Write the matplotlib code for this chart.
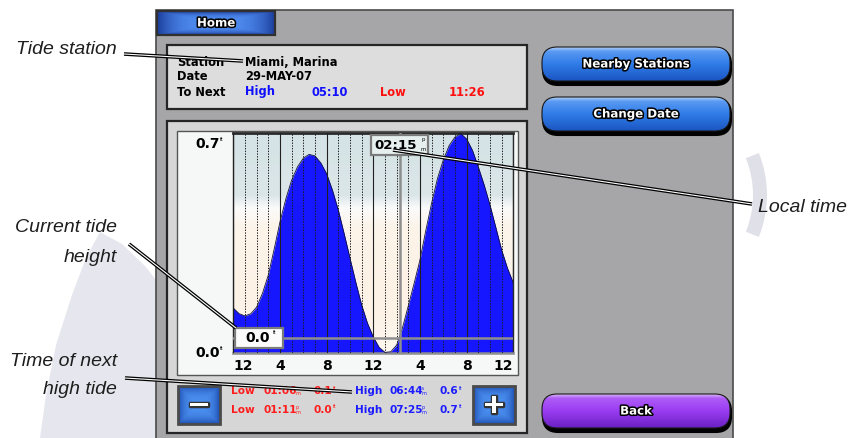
import matplotlib
matplotlib.use("Agg")
import matplotlib.pyplot as plt
import numpy as np
from matplotlib.patches import Rectangle, FancyBboxPatch, Polygon, Wedge
import matplotlib.patheffects as pe
from matplotlib.colors import to_rgb

# ---------------- data ----------------
hours = [0, 0.5, 1, 1.5, 2, 2.5, 3, 3.5, 4, 4.5, 5, 5.5, 6, 6.5, 7, 7.5, 8, 8.5,
         9, 9.5, 10, 10.5, 11, 11.5, 12, 12.5, 13, 13.5, 14, 14.5, 15, 15.5, 16,
         16.5, 17, 17.5, 18, 18.5, 19, 19.5, 20, 20.5, 21, 21.5, 22, 22.5, 23,
         23.5, 24]
heights_ft = [0.143, 0.125, 0.118, 0.125, 0.146, 0.190, 0.248, 0.330, 0.417,
              0.490, 0.550, 0.592, 0.620, 0.632, 0.627, 0.605, 0.570, 0.518,
              0.455, 0.380, 0.302, 0.225, 0.153, 0.095, 0.051, 0.018, 0.002,
              0.004, 0.025, 0.080, 0.150, 0.222, 0.296, 0.390, 0.477, 0.555,
              0.614, 0.660, 0.687, 0.698, 0.681, 0.645, 0.592, 0.535, 0.471,
              0.400, 0.328, 0.270, 0.223]
xtick_hours = [0, 4, 8, 12, 16, 20, 24]
xtick_labels = ["12", "4", "8", "12", "4", "8", "12"]
ytick_values = [0.0, 0.7]
ytick_labels = ["0.0", "0.7"]
current_time_h = 14.25
current_time_label = "02:15"
current_height_ft = 0.048
current_height_label = "0.0"

station = "Miami, Marina"
date_str = "29-MAY-07"
next_high = "05:10"
next_low = "11:26"
table_types = [["Low", "High"], ["Low", "High"]]
table_times = [["01:06", "06:44"], ["01:11", "07:25"]]
table_ampm = [["am", "am"], ["pm", "pm"]]
table_heights = [["0.1", "0.6"], ["0.0", "0.7"]]

# ---------------- figure ----------------
W, H = 852, 438
fig = plt.figure(figsize=(W / 100, H / 100), dpi=100)
bg = fig.add_axes([0, 0, 1, 1], zorder=0)
bg.set_xlim(0, W); bg.set_ylim(H, 0); bg.axis("off")
ov = fig.add_axes([0, 0, 1, 1], zorder=10)
ov.set_xlim(0, W); ov.set_ylim(H, 0); ov.axis("off"); ov.patch.set_alpha(0)

BOLD = dict(family="DejaVu Sans", weight="bold")
outline = [pe.withStroke(linewidth=2.2, foreground="black")]


def grad_array(stops, n=80):
    t = np.linspace(0, 1, n)
    pos = [p for p, _ in stops]
    cols = np.array([to_rgb(c) for _, c in stops])
    col = np.stack([np.interp(t, pos, cols[:, k]) for k in range(3)], axis=-1)
    return np.repeat(col[:, None, :], 4, axis=1)


def grad_image(ax, x0, y0, x1, y1, stops, clip, z):
    im = ax.imshow(grad_array(stops), extent=(x0, x1, y1, y0), origin="upper",
                   aspect="auto", zorder=z, interpolation="bilinear")
    im.set_clip_path(clip)
    return im


def box_image(ax, x0, y0, x1, y1, c_center, c_edge, clip, z):
    n = 60
    u = np.linspace(-1, 1, n)
    U, V = np.meshgrid(u, u)
    d = np.clip(np.maximum(np.abs(U), np.abs(V)) ** 3, 0, 1)
    cc, ce = np.array(to_rgb(c_center)), np.array(to_rgb(c_edge))
    arr = cc[None, None, :] * (1 - d[..., None]) + ce[None, None, :] * d[..., None]
    im = ax.imshow(arr, extent=(x0, x1, y1, y0), origin="upper", aspect="auto",
                   zorder=z, interpolation="bilinear")
    im.set_clip_path(clip)


def pill(ax, x0, y0, x1, y1, stops, label):
    r = (y1 - y0) * 0.42
    sh = FancyBboxPatch((x0 + 1, y0 + 2), x1 - x0, y1 - y0,
                        boxstyle=f"round,pad=0,rounding_size={r}",
                        fc="black", ec="black", lw=1.5, zorder=3)
    ax.add_patch(sh)
    p = FancyBboxPatch((x0, y0), x1 - x0, y1 - y0 - 2,
                       boxstyle=f"round,pad=0,rounding_size={r}",
                       fc="none", ec="#1a1a1a", lw=0.8, zorder=5)
    ax.add_patch(p)
    grad_image(ax, x0, y0, x1, y1 - 2, stops, p, 4)
    ax.text((x0 + x1) / 2, (y0 + y1) / 2 - 1, label, color="white", fontsize=8.5,
            ha="center", va="center", zorder=6, path_effects=outline, **BOLD)


# faint watermark shapes outside the screen
bg.add_patch(Polygon([(100, 232), (122, 244), (145, 266), (160, 285), (160, 438),
                      (40, 438), (46, 395), (56, 345), (72, 295), (86, 258)],
                     closed=True, fc="#e6e6ee", ec="none", zorder=0.5))
bg.add_patch(Wedge((655, 195), 112, -22, 22, width=14, fc="#e0e0e8", ec="none", zorder=0.5))

# screen background
bg.add_patch(Rectangle((156, 10), 577, 430, fc="#a6a6a8", ec="#4a4a4a", lw=1.2, zorder=1))

# Home tab
hp = Rectangle((157, 11), 118, 24, fc="none", ec="#303030", lw=1.6, zorder=5)
bg.add_patch(hp)
box_image(bg, 157, 11, 275, 35, "#4f8cf0", "#1c3f9e", hp, 4)
bg.text(216, 23, "Home", color="white", fontsize=8.5, ha="center", va="center",
        zorder=6, path_effects=outline, **BOLD)

# info box
bg.add_patch(Rectangle((167, 45), 360, 64, fc="#dddddd", ec="#252525", lw=1.6, zorder=2))
tx = dict(fontsize=8.3, va="center", zorder=3, **BOLD)
bg.text(177, 63, "Station", color="black", **tx)
bg.text(245, 63, station, color="black", **tx)
bg.text(177, 77, "Date", color="black", **tx)
bg.text(245, 77, date_str, color="black", **tx)
bg.text(177, 92, "To Next", color="black", **tx)
bg.text(245, 92, "High", color="#1010ff", **tx)
bg.text(312, 92, next_high, color="#1010ff", **tx)
bg.text(380, 92, "Low", color="#ff1010", **tx)
bg.text(449, 92, next_low, color="#ff1010", **tx)

# chart panel
bg.add_patch(Rectangle((167, 121), 360, 312, fc="#d6d6d6", ec="#252525", lw=1.6, zorder=2))
bg.add_patch(Rectangle((177, 131), 341, 244, fc="#f6f7f7", ec="#555555", lw=1.0, zorder=2))

# right buttons
blue_stops = [(0, "#b4d0f5"), (0.12, "#5a9af2"), (0.5, "#2f7ce8"), (1, "#1b56c2")]
purple_stops = [(0, "#d8b6f5"), (0.12, "#ae5cf7"), (0.5, "#9a3cf2"), (1, "#6a20c2")]
pill(bg, 542, 47, 730, 83, blue_stops, "Nearby Stations")
pill(bg, 542, 97, 730, 133, blue_stops, "Change Date")
pill(bg, 542, 394, 730, 430, purple_stops, "Back")

# +/- buttons
for (x0, sym) in [(178, "\u2212"), (473, "+")]:
    bp = Rectangle((x0, 386), 42, 38, fc="none", ec="#4a4a4a", lw=2.0, zorder=5)
    bg.add_patch(bp)
    box_image(bg, x0, 386, x0 + 42, 424, "#4a8ef0", "#1d4fb0", bp, 4)
    bg.text(x0 + 21, 405, sym, color="white", fontsize=20, ha="center", va="center",
            zorder=6, path_effects=[pe.withStroke(linewidth=2.5, foreground="#333333")],
            **BOLD)

# tide table rows
rows_y = [391, 410]
for i, y in enumerate(rows_y):
    for j, (xt, xm, xh, col) in enumerate([(231, 264, 313, "#ff1c1c"), (355, 389, 439, "#1c1cff")]):
        kw = dict(fontsize=7.6, va="center", color=col, zorder=3, family="DejaVu Sans",
                  weight="semibold")
        bg.text(xt, y, table_types[i][j], **kw)
        bg.text(xm, y, table_times[i][j], **kw)
        bg.text(xm + 32, y - 3, table_ampm[i][j][0], fontsize=3.5, color=col, va="center", zorder=3)
        bg.text(xm + 32, y + 2.5, table_ampm[i][j][1], fontsize=3.5, color=col, va="center", zorder=3)
        bg.text(xh, y, table_heights[i][j], **kw)
        bg.text(xh + 20, y - 3, "ft", fontsize=3.5, color=col, va="center", zorder=3)

# ---------------- tide chart ----------------
L, R, T, B = 233.3, 513.3, 133.0, 353.0
ax = fig.add_axes([L / W, 1 - B / H, (R - L) / W, (B - T) / H], zorder=5)
bg_stops = [(0, "#d5e3e6"), (0.28, "#dbe6e8"), (0.34, "#fbfbfb"), (0.42, "#fcf4ea"),
            (0.8, "#fcf2e5"), (1, "#fdf7ef")]
ax.imshow(grad_array(bg_stops), extent=(0, 1, 0, 1), transform=ax.transAxes,
          aspect="auto", zorder=0, interpolation="bilinear")
ax.set_xlim(0, 24)
ax.set_ylim(0, 0.7)
ax.fill_between(hours, heights_ft, 0, color="#1717ff", lw=0, zorder=2)
ax.plot(hours, heights_ft, color="#101040", lw=0.6, zorder=3)
for h in range(0, 25):
    if h % 4 == 0:
        ax.axvline(h, color="#202020", lw=0.8, zorder=4)
    else:
        ax.axvline(h, color="#1a1a1a", lw=0.7, ls=(0, (1.4, 1.4)), zorder=4)
ax.axvline(current_time_h, color="#8e8e8e", lw=1.8, zorder=5)
ax.axhline(current_height_ft, color="#8e8e8e", lw=1.8, zorder=5)
for s in ax.spines.values():
    s.set_color("#2a2a2a"); s.set_linewidth(1.0)
ax.spines["top"].set_linewidth(2.0)
ax.spines["bottom"].set_color("#8e8e8e"); ax.spines["bottom"].set_linewidth(1.8)
ax.set_xticks(xtick_hours)
ax.set_xticklabels(xtick_labels, fontsize=10, **BOLD)
ax.tick_params(axis="x", length=0, pad=4)
tl = ax.get_xticklabels()
tl[0].set_ha("left"); tl[-1].set_ha("right")
ax.set_yticks([])
for v, lab in zip(ytick_values, ytick_labels):
    va = "top" if v == max(ytick_values) else "center"
    dy = -3 if va == "top" else 0
    ax.annotate(lab, xy=(0, v), xycoords=("axes fraction", "data"), xytext=(-10, dy),
                textcoords="offset points", ha="right", va=va, fontsize=10,
                zorder=6, annotation_clip=False, **BOLD)
    ax.annotate("ft", xy=(0, v), xycoords=("axes fraction", "data"),
                xytext=(-9.5, dy + (0 if va == "top" else 3)),
                textcoords="offset points", ha="left", va=va, fontsize=3.5,
                annotation_clip=False)

# current height box and time box (overlay)
ov.add_patch(Rectangle((235, 328), 48, 20, fc="#fbfbfb", ec="#7c7c7c", lw=1.6, zorder=3))
ov.text(258, 338.5, current_height_label, fontsize=10, ha="center", va="center", zorder=4, **BOLD)
ov.text(273, 333, "ft", fontsize=3.5, ha="left", va="center", zorder=4)
ov.add_patch(Rectangle((371, 135), 57, 20, fc="#e6eeee", ec="#7c7c7c", lw=1.6, zorder=3))
ov.text(374, 145.5, current_time_label, fontsize=9.6, ha="left", va="center", zorder=4, **BOLD)
ov.text(421, 139.5, "p", fontsize=3.8, ha="left", va="center", zorder=4)
ov.text(420.5, 149.5, "m", fontsize=3.8, ha="left", va="center", zorder=4)

# ---------------- annotations ----------------
ann = dict(fontsize=14, family="Liberation Sans", style="italic", color="#1e1e1e", zorder=5)
ov.text(117, 50, "Tide station", ha="right", va="center", **ann)
ov.text(117, 228, "Current tide", ha="right", va="center", **ann)
ov.text(117, 257, "height", ha="right", va="center", **ann)
ov.text(117, 362, "Time of next", ha="right", va="center", **ann)
ov.text(117, 389, "high tide", ha="right", va="center", **ann)
ov.text(758, 207, "Local time", ha="left", va="center", **ann)


def leader(p0, p1):
    ov.plot([p0[0], p1[0]], [p0[1], p1[1]], color="black", lw=2.6, solid_capstyle="butt", zorder=6)
    ov.plot([p0[0], p1[0]], [p0[1], p1[1]], color="white", lw=0.8, solid_capstyle="butt", zorder=7)


leader((124, 54), (243, 61))
leader((129, 244), (236, 328))
leader((125, 378), (352, 392))
leader((393, 150), (752, 204))

fig.savefig("out.png", dpi=100)
